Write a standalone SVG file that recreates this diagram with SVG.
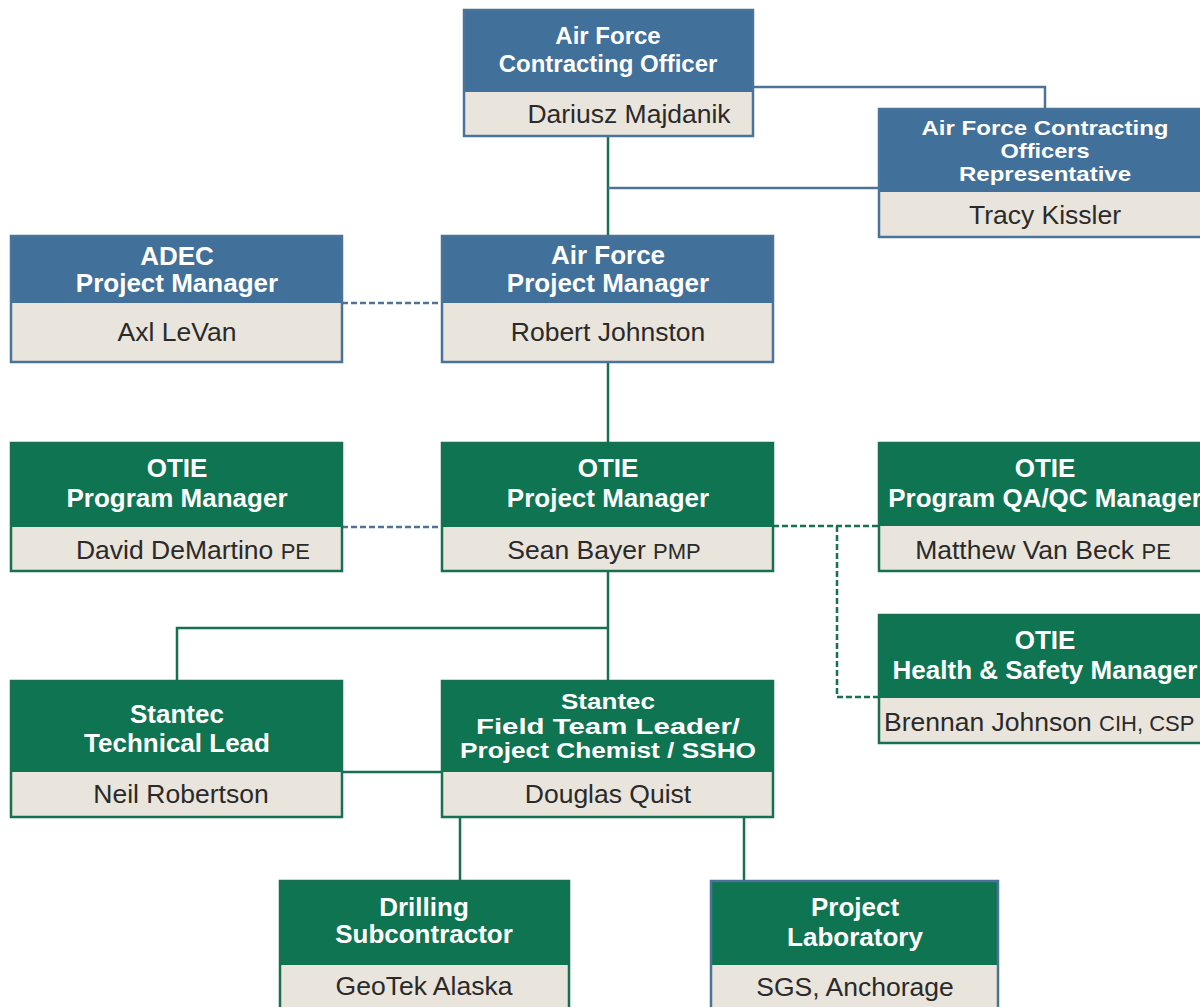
<svg xmlns="http://www.w3.org/2000/svg" width="1200" height="1007" viewBox="0 0 1200 1007">
<style>
.bh{fill:#41709a}
.gh{fill:#0e7451}
.nb{fill:#e9e4dc}
.bb{fill:none;stroke:#4a7399;stroke-width:2.5}
.gb{fill:none;stroke:#17704f;stroke-width:2.5}
.t{font-family:"Liberation Sans",Arial,sans-serif;font-weight:bold;font-size:26px;fill:#fff;text-anchor:middle}
.c{font-size:24px}
.k{font-size:21px}
.f{font-size:22px}
.n{font-family:"Liberation Sans",Arial,sans-serif;font-size:26.5px;fill:#2a2a2a;text-anchor:middle}
.s{font-size:22px}
.lb{fill:none;stroke:#4f7296;stroke-width:2.5}
.lg{fill:none;stroke:#17704f;stroke-width:2.5}
.db{fill:none;stroke:#4f7296;stroke-width:2.5;stroke-dasharray:6 3}
.dg{fill:none;stroke:#17704f;stroke-width:2.5;stroke-dasharray:6 3}
</style>
<rect width="1200" height="1007" fill="#fff"/>
<g id="connectors">
<path class="lb" d="M753 87H1045V109"/>
<path class="lg" d="M608 136V236"/>
<path class="lb" d="M608 188H879"/>
<path class="db" d="M342 303H442"/>
<path class="lg" d="M608 362V443"/>
<path class="db" d="M342 527H442"/>
<path class="dg" d="M773 526H879"/>
<path class="dg" d="M837 526V697H879"/>
<path class="lg" d="M608 571V628H177V681M608 628V681"/>
<path class="lg" d="M342 772H442"/>
<path class="lg" d="M460 817V881M744 817V881"/>
</g>
<g id="af-co">
<rect class="bh" x="464" y="10" width="289" height="82"/>
<rect class="nb" x="464" y="92" width="289" height="44"/>
<rect class="bb" x="464" y="10" width="289" height="126"/>
<text class="t c" x="608" y="44">Air Force</text>
<text class="t c" x="608" y="72">Contracting Officer</text>
<text class="n" x="629" y="123">Dariusz Majdanik</text>
</g>
<g id="af-cor">
<rect class="bh" x="879" y="109" width="331" height="83"/>
<rect class="nb" x="879" y="192" width="331" height="45"/>
<rect class="bb" x="879" y="109" width="331" height="128"/>
<text class="t k" x="1045" y="135" textLength="247" lengthAdjust="spacingAndGlyphs">Air Force Contracting</text>
<text class="t k" x="1045" y="158" textLength="89" lengthAdjust="spacingAndGlyphs">Officers</text>
<text class="t k" x="1045" y="181" textLength="172" lengthAdjust="spacingAndGlyphs">Representative</text>
<text class="n" x="1045" y="224">Tracy Kissler</text>
</g>
<g id="adec-pm">
<rect class="bh" x="11" y="236" width="331" height="67"/>
<rect class="nb" x="11" y="303" width="331" height="59"/>
<rect class="bb" x="11" y="236" width="331" height="126"/>
<text class="t" x="177" y="265">ADEC</text>
<text class="t" x="177" y="292">Project Manager</text>
<text class="n" x="177" y="341">Axl LeVan</text>
</g>
<g id="af-pm">
<rect class="bh" x="442" y="236" width="331" height="67"/>
<rect class="nb" x="442" y="303" width="331" height="59"/>
<rect class="bb" x="442" y="236" width="331" height="126"/>
<text class="t" x="608" y="264">Air Force</text>
<text class="t" x="608" y="292">Project Manager</text>
<text class="n" x="608" y="341">Robert Johnston</text>
</g>
<g id="otie-pgm">
<rect class="gh" x="11" y="443" width="331" height="84"/>
<rect class="nb" x="11" y="527" width="331" height="44"/>
<rect class="gb" x="11" y="443" width="331" height="128"/>
<text class="t" x="177" y="477">OTIE</text>
<text class="t" x="177" y="507">Program Manager</text>
<text class="n" x="193" y="559">David DeMartino <tspan class="s">PE</tspan></text>
</g>
<g id="otie-pm">
<rect class="gh" x="442" y="443" width="331" height="84"/>
<rect class="nb" x="442" y="527" width="331" height="44"/>
<rect class="gb" x="442" y="443" width="331" height="128"/>
<text class="t" x="608" y="477">OTIE</text>
<text class="t" x="608" y="507">Project Manager</text>
<text class="n" x="604" y="559">Sean Bayer <tspan class="s">PMP</tspan></text>
</g>
<g id="otie-qaqc">
<rect class="gh" x="879" y="443" width="331" height="83"/>
<rect class="nb" x="879" y="526" width="331" height="45"/>
<rect class="gb" x="879" y="443" width="331" height="128"/>
<text class="t" x="1045" y="477">OTIE</text>
<text class="t" x="1045" y="507">Program QA/QC Manager</text>
<text class="n" x="1043" y="559">Matthew Van Beck <tspan class="s">PE</tspan></text>
</g>
<g id="otie-hs">
<rect class="gh" x="879" y="615" width="331" height="83"/>
<rect class="nb" x="879" y="698" width="331" height="45"/>
<rect class="gb" x="879" y="615" width="331" height="128"/>
<text class="t" x="1045" y="649">OTIE</text>
<text class="t" x="1045" y="679">Health &amp; Safety Manager</text>
<text class="n" x="884" y="731" style="text-anchor:start">Brennan Johnson <tspan class="s">CIH, CSP</tspan></text>
</g>
<g id="stantec-tl">
<rect class="gh" x="11" y="681" width="331" height="91"/>
<rect class="nb" x="11" y="772" width="331" height="45"/>
<rect class="gb" x="11" y="681" width="331" height="136"/>
<text class="t" x="177" y="723">Stantec</text>
<text class="t" x="177" y="752">Technical Lead</text>
<text class="n" x="181" y="803">Neil Robertson</text>
</g>
<g id="stantec-ftl">
<rect class="gh" x="442" y="681" width="331" height="91"/>
<rect class="nb" x="442" y="772" width="331" height="45"/>
<rect class="gb" x="442" y="681" width="331" height="136"/>
<text class="t f" x="608" y="709" textLength="94" lengthAdjust="spacingAndGlyphs">Stantec</text>
<text class="t f" x="608" y="733.6" textLength="264" lengthAdjust="spacingAndGlyphs">Field Team Leader/</text>
<text class="t f" x="608" y="758.2" textLength="296" lengthAdjust="spacingAndGlyphs">Project Chemist / SSHO</text>
<text class="n" x="608" y="803">Douglas Quist</text>
</g>
<g id="drilling">
<rect class="gh" x="280" y="881" width="289" height="84"/>
<rect class="nb" x="280" y="965" width="289" height="42"/>
<rect class="gb" x="280" y="881" width="289" height="130"/>
<text class="t" x="424" y="916">Drilling</text>
<text class="t" x="424" y="943">Subcontractor</text>
<text class="n" x="424" y="995">GeoTek Alaska</text>
</g>
<g id="lab">
<rect class="gh" x="711" y="881" width="287" height="84"/>
<rect class="nb" x="711" y="965" width="287" height="42"/>
<rect class="bb" x="711" y="881" width="287" height="130"/>
<text class="t" x="855" y="916">Project</text>
<text class="t" x="855" y="946">Laboratory</text>
<text class="n" x="855" y="996">SGS, Anchorage</text>
</g>
</svg>
